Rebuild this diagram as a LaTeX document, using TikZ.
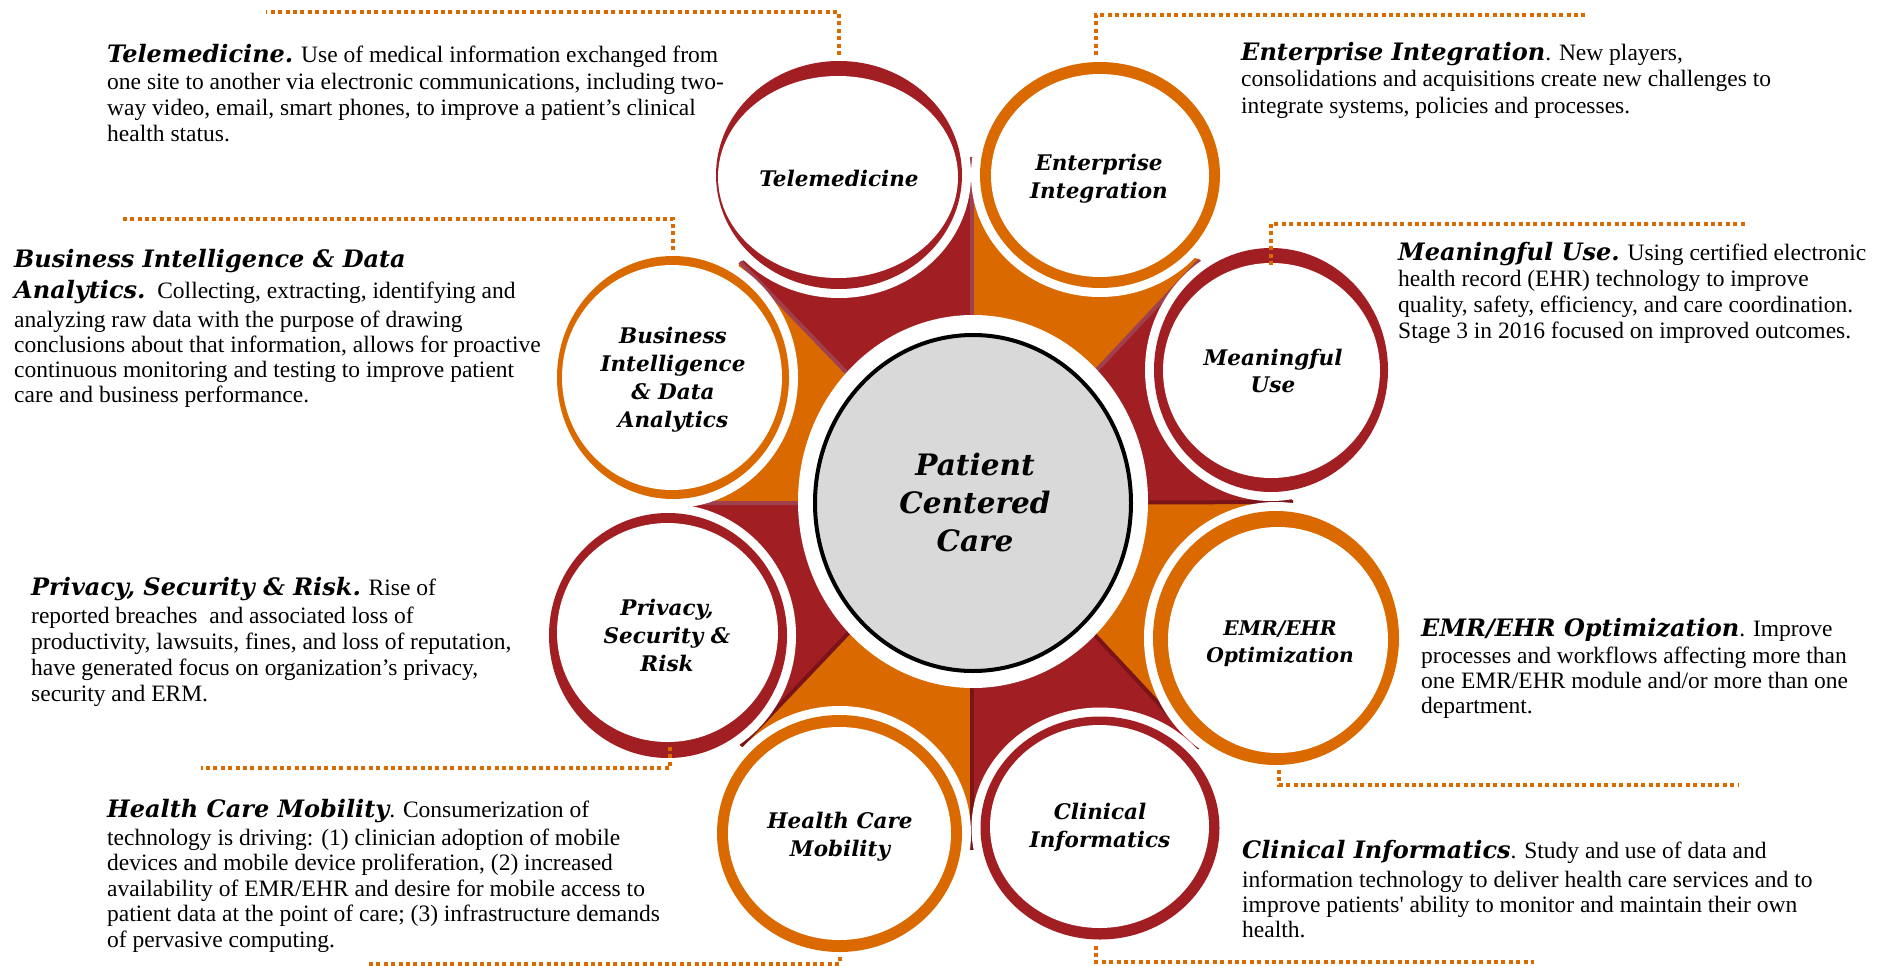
\documentclass[tikz,border=0pt]{standalone}
\usepackage{fontspec}
\setmainfont{Liberation Serif}
\newfontfamily\hdfont{DejaVu Serif}
\usetikzlibrary{shapes.geometric}
\definecolor{cred}{HTML}{A11F23}
\definecolor{corange}{HTML}{DA6A00}
\definecolor{cpink}{HTML}{A0404F}
\definecolor{cdark}{HTML}{7A1418}
\definecolor{cgray}{HTML}{D9D9D9}
\newcommand\hd[1]{{\hdfont\bfseries\itshape\fontsize{24}{26}\selectfont #1}}
\newcommand\lblfont{\hdfont\bfseries\itshape\fontsize{21.5}{28}\selectfont}
\newcommand\mulblfont{\hdfont\bfseries\itshape\fontsize{21.5}{27}\selectfont}
\newcommand\smlblfont{\hdfont\bfseries\itshape\fontsize{20.2}{27}\selectfont}
\newcommand\cfont{\hdfont\bfseries\itshape\fontsize{29.5}{38}\selectfont}
\tikzset{
  band/.style={ellipse, fill=white, inner sep=0pt, outer sep=0pt},
  ring/.style={ellipse, fill=#1, inner sep=0pt, outer sep=0pt},
  hole/.style={ellipse, fill=white, inner sep=0pt, outer sep=0pt},
  lbl/.style={anchor=base, inner sep=0pt, font=\lblfont},
  para/.style={anchor=base west, inner sep=0pt},
  leader/.style={draw=corange, line width=4pt, dash pattern=on 4pt off 3.4pt},
  ray/.style={line width=4pt},
}
\begin{document}
\begin{tikzpicture}[x=1pt, y=-1pt]
\useasboundingbox (0,0) rectangle (1887,966);
\fill[white] (0,0) rectangle (1887,966);

% star
\coordinate (C) at (972,503);
\coordinate (pN) at (972,157);
\coordinate (pNE) at (1200,260);
\coordinate (pE) at (1293,502);
\coordinate (pSE) at (1200,748);
\coordinate (pS) at (972,850);
\coordinate (pSW) at (741,746);
\coordinate (pW) at (648,503);
\coordinate (pNW) at (740,262);
\fill[cred] (C) -- (pNW) -- (pN) -- cycle;
\fill[corange] (C) -- (pN) -- (pNE) -- cycle;
\fill[cred] (C) -- (pNE) -- (pE) -- cycle;
\fill[corange] (C) -- (pE) -- (pSE) -- cycle;
\fill[cred] (C) -- (pSE) -- (pS) -- cycle;
\fill[corange] (C) -- (pS) -- (pSW) -- cycle;
\fill[cred] (C) -- (pSW) -- (pW) -- cycle;
\fill[corange] (C) -- (pW) -- (pNW) -- cycle;
\draw[ray, cpink] (C) -- (pN);
\draw[ray, cpink] (C) -- (pNE);
\draw[ray, cpink] (C) -- (pNW);
\draw[ray, cpink] (C) -- (pW);
\draw[ray, cdark] (C) -- (pE);
\draw[ray, cdark] (C) -- (pSE);
\draw[ray, cdark] (C) -- (pS);
\draw[ray, cdark] (C) -- (pSW);

% Telemedicine
\node[band, minimum width=264pt, minimum height=246pt] (tmW) at (839,175) {};
\node[ring=cred, minimum width=246pt, minimum height=228pt] (tmR) at (839,175) {};
\node[hole, minimum width=240pt, minimum height=202pt] (tmH) at (838,177) {};
% Enterprise
\node[band, minimum width=258pt, minimum height=244pt] (enW) at (1100,175) {};
\node[ring=corange, minimum width=240pt, minimum height=226pt] (enR) at (1100,175) {};
\node[hole, minimum width=218pt, minimum height=203pt] (enH) at (1100,175.5) {};
% Meaningful Use
\node[band, minimum width=252pt, minimum height=262pt] (muW) at (1271,370) {};
\node[ring=cred, minimum width=234pt, minimum height=244pt] (muR) at (1271,370) {};
\node[hole, minimum width=217pt, minimum height=215pt] (muH) at (1271.5,370.5) {};
% EMR/EHR
\node[band, minimum width=264pt, minimum height=272pt] (emW) at (1276,638) {};
\node[ring=corange, minimum width=246pt, minimum height=254pt] (emR) at (1276,638) {};
\node[hole, minimum width=220pt, minimum height=226pt] (emH) at (1278,640) {};
% Clinical
\node[band, minimum width=257pt, minimum height=241pt] (ciW) at (1100,828) {};
\node[ring=cred, minimum width=239pt, minimum height=223pt] (ciR) at (1100,828) {};
\node[hole, minimum width=219pt, minimum height=203pt] (ciH) at (1099.5,826.5) {};
% Health Care Mobility
\node[band, minimum width=263pt, minimum height=255pt] (hcW) at (839.5,833.5) {};
\node[ring=corange, minimum width=245pt, minimum height=237pt] (hcR) at (839.5,833.5) {};
\node[hole, minimum width=223pt, minimum height=213pt] (hcH) at (839.5,833.5) {};
% Privacy
\node[band, minimum width=256pt, minimum height=263pt] (prW) at (668,635.5) {};
\node[ring=cred, minimum width=238pt, minimum height=245pt] (prR) at (668,635.5) {};
\node[hole, minimum width=221pt, minimum height=219pt] (prH) at (667.5,632.5) {};
% Business
\node[band, minimum width=250pt, minimum height=261pt] (biW) at (673,377.5) {};
\node[ring=corange, minimum width=232pt, minimum height=243pt] (biR) at (673,377.5) {};
\node[hole, minimum width=220pt, minimum height=225pt] (biH) at (672,377.5) {};

% centre
\node[ellipse, fill=white, inner sep=0pt, minimum width=350pt, minimum height=373pt] (ccW) at (973,501.5) {};
\node[ellipse, fill=cgray, draw=black, line width=4pt, inner sep=0pt, minimum width=316pt, minimum height=336pt] (cc) at (973,503) {};

% circle labels
\node[lbl] (tmL) at (839,186) {Telemedicine};
\node[lbl] (enL) at (1099,170) {\begin{tabular}[t]{@{}c@{}}Enterprise\\Integration\end{tabular}};
\node[lbl] (biL) at (673,343) {\begin{tabular}[t]{@{}c@{}}Business\\Intelligence\\\& Data\\Analytics\end{tabular}};
\node[lbl] (prL) at (667,615) {\begin{tabular}[t]{@{}c@{}}Privacy,\\Security \&\\Risk\end{tabular}};
\node[lbl, font=\mulblfont] (muL) at (1273,365) {\begin{tabular}[t]{@{}c@{}}Meaningful\\Use\end{tabular}};
\node[lbl, font=\smlblfont] (emL) at (1280,635) {\begin{tabular}[t]{@{}c@{}}EMR/EHR\\Optimization\end{tabular}};
\node[lbl] (hcL) at (840,828) {\begin{tabular}[t]{@{}c@{}}Health Care\\Mobility\end{tabular}};
\node[lbl] (ciL) at (1100,819) {\begin{tabular}[t]{@{}c@{}}Clinical\\Informatics\end{tabular}};
\node[lbl, font=\cfont] (ccL) at (975,475) {\begin{tabular}[t]{@{}c@{}}Patient\\Centered\\Care\end{tabular}};

% leader lines
\coordinate (tmE) at (266,12.5);
\coordinate (enE) at (1586,15);
\coordinate (biE) at (120,219);
\coordinate (muE) at (1745,224);
\coordinate (prE) at (201,768);
\coordinate (emE) at (1739,785);
\coordinate (ciE) at (1534,962);
\coordinate (hcE) at (366,964);
\draw[leader] ([yshift=6pt]tmR.north) |- (tmE);
\draw[leader] ([yshift=7pt,xshift=-4pt]enR.north) |- (enE);
\draw[leader] ([yshift=6pt]biR.north) |- (biE);
\draw[leader] ([yshift=-17pt]muR.north) |- (muE);
\draw[leader] ([yshift=11pt,xshift=2pt]prR.south) |- (prE);
\draw[leader] ([yshift=-5pt,xshift=3pt]emR.south) |- (emE);
\draw[leader] ([yshift=-6pt,xshift=-4pt]ciR.south) |- (ciE);
\draw[leader] ([yshift=-5pt]hcR.south) |- (hcE);

% description paragraphs
\node[para, font=\fontsize{23.5}{26.3}\selectfont] (tmT) at (107,63) {\begin{tabular}[t]{@{}l@{}}
\hd{Telemedicine.} Use of medical information exchanged from\\
one site to another via electronic communications, including two-\\
way video, email, smart phones, to improve a patient’s clinical\\
health status.\end{tabular}};

\node[para, font=\fontsize{23.5}{26.5}\selectfont] (enT) at (1241,60) {\begin{tabular}[t]{@{}l@{}}
\hd{Enterprise Integration}. New players,\\
consolidations and acquisitions create new challenges to\\
integrate systems, policies and processes.\end{tabular}};

\node[para, font=\fontsize{23.5}{25}\selectfont] (biT) at (14,267) {\begin{tabular}[t]{@{}l@{}}
\hd{Business Intelligence \& Data}\\[6pt]
\hd{Analytics.}\ \ Collecting, extracting, identifying and\\[4pt]
analyzing raw data with the purpose of drawing\\
conclusions about that information, allows for proactive\\
continuous monitoring and testing to improve patient\\
care and business performance.\end{tabular}};

\node[para, font=\fontsize{23.5}{26}\selectfont] (muT) at (1398,260) {\begin{tabular}[t]{@{}l@{}}
\hd{Meaningful Use.} Using certified electronic\\
health record (EHR) technology to improve\\
quality, safety, efficiency, and care coordination.\\
Stage 3 in 2016 focused on improved outcomes.\end{tabular}};

\node[para, font=\fontsize{23.5}{26}\selectfont] (prT) at (31,595) {\begin{tabular}[t]{@{}l@{}}
\hd{Privacy, Security \& Risk.} Rise of\\[2pt]
reported breaches\ \ and associated loss of\\
productivity, lawsuits, fines, and loss of reputation,\\
have generated focus on organization’s privacy,\\
security and ERM.\end{tabular}};

\node[para, font=\fontsize{23.5}{25.5}\selectfont] (hcT) at (107,817) {\begin{tabular}[t]{@{}l@{}}
\hd{Health Care Mobility}. Consumerization of\\[2.5pt]
technology is driving: (1) clinician adoption of mobile\\
devices and mobile device proliferation, (2) increased\\
availability of EMR/EHR and desire for mobile access to\\
patient data at the point of care; (3) infrastructure demands\\
of pervasive computing.\end{tabular}};

\node[para, font=\fontsize{23.5}{25}\selectfont] (emT) at (1421,636) {\begin{tabular}[t]{@{}l@{}}
\hd{EMR/EHR Optimization}. Improve\\[2pt]
processes and workflows affecting more than\\
one EMR/EHR module and/or more than one\\
department.\end{tabular}};

\node[para, font=\fontsize{23.5}{25}\selectfont] (ciT) at (1242,858) {\begin{tabular}[t]{@{}l@{}}
\hd{Clinical Informatics}. Study and use of data and\\[4pt]
information technology to deliver health care services and to\\
improve patients\textquotesingle{} ability to monitor and maintain their own\\
health.\end{tabular}};
\end{tikzpicture}
\end{document}
